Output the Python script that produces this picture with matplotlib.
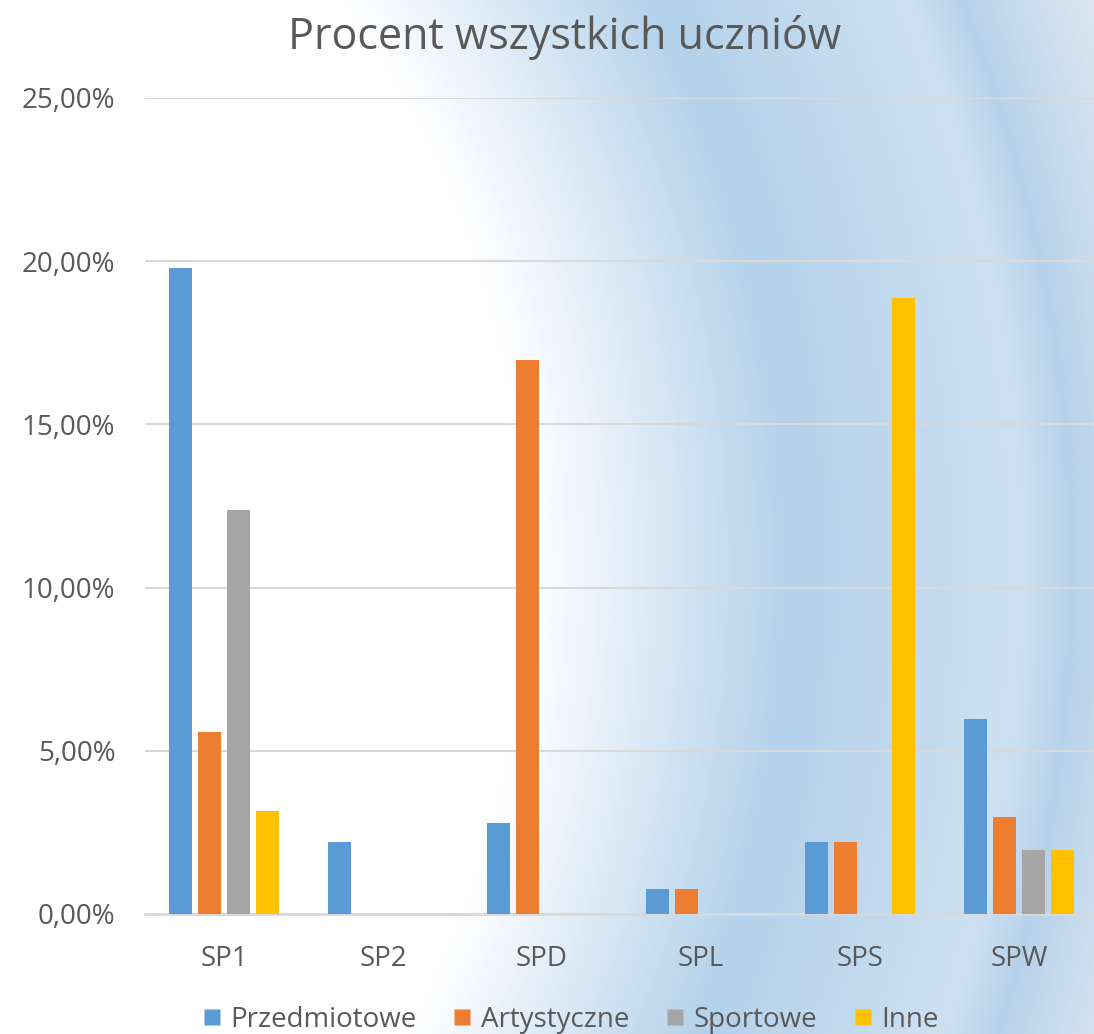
import numpy as np
import matplotlib
matplotlib.use("Agg")
import matplotlib.pyplot as plt
from matplotlib.lines import Line2D

categories = ["SP1", "SP2", "SPD", "SPL", "SPS", "SPW"]
series_names = ["Przedmiotowe", "Artystyczne", "Sportowe", "Inne"]
przedmiotowe = [0.1979, 0.0221, 0.0279, 0.0076, 0.0220, 0.0597]
artystyczne = [0.0558, 0.0, 0.1697, 0.0076, 0.0220, 0.0297]
sportowe = [0.1238, 0.0, 0.0, 0.0, 0.0, 0.0197]
inne = [0.0316, 0.0, 0.0, 0.0, 0.1887, 0.0197]
yticks = [0.0, 0.05, 0.10, 0.15, 0.20, 0.25]
ytick_labels = ["0,00%", "5,00%", "10,00%", "15,00%", "20,00%", "25,00%"]
title = "Procent wszystkich uczniów"

colors = ["#5B9BD5", "#ED7D31", "#A5A5A5", "#FFC000"]
text_color = "#595959"
font = ["Open Sans", "DejaVu Sans"]

W, H = 1094, 1034
fig = plt.figure(figsize=(W / 100, H / 100), dpi=100)

# decorative background: radial gradient with soft bands
yy, xx = np.mgrid[0:H, 0:W].astype(float)
r = np.sqrt((xx + 439) ** 2 + (yy - 566) ** 2)
prof_r = [960, 1000, 1230, 1320, 1400, 1460, 1510, 1560, 1640]
prof_c = [(255, 255, 255), (246, 249, 253), (180, 210, 235), (190, 215, 237), (198, 221, 240),
          (206, 225, 242), (182, 210, 235), (200, 220, 238), (222, 231, 241)]
img = np.ones((H, W, 3))
for c in range(3):
    vals = np.array([p[c] for p in prof_c]) / 255
    img[..., c] = np.interp(r, prof_r, vals, left=1.0, right=vals[-1])
bg = fig.add_axes([0, 0, 1, 1], zorder=0)
bg.imshow(img, aspect="auto", extent=[0, W, H, 0], interpolation="bilinear")
bg.axis("off")

ax = fig.add_axes([144.5 / W, 1 - 914 / H, 954 / W, 816 / H], zorder=1)
ax.set_facecolor("none")

x = np.arange(len(categories))
step = 0.1817
width = 0.143
for i, (name, vals) in enumerate(zip(series_names, [przedmiotowe, artystyczne, sportowe, inne])):
    ax.bar(x + (i - 1.5) * step, vals, width=width, color=colors[i], label=name, zorder=3)

ax.set_xlim(-0.5, len(categories) - 0.5)
ax.set_ylim(0, 0.25)
ax.set_yticks(yticks)
ax.set_yticklabels(ytick_labels, fontfamily=font, fontsize=20, color=text_color)
ax.set_xticks(x)
ax.set_xticklabels(categories, fontfamily=font, fontsize=20, color=text_color)
ax.tick_params(axis="y", length=0, pad=21)
ax.tick_params(axis="x", length=0, pad=22)
ax.grid(axis="y", color="#D9D9D9", linewidth=1.5, zorder=1)
for s in ["left", "right", "top"]:
    ax.spines[s].set_visible(False)
ax.spines["bottom"].set_color("#D9D9D9")
ax.spines["bottom"].set_linewidth(2)

fig.text(565 / W, 1 - 38 / H, title, ha="center", va="center",
         fontfamily=font, fontsize=31, color=text_color)

handles = [Line2D([0], [0], marker="s", linestyle="none", markersize=11.5,
                  markerfacecolor=colors[i], markeredgecolor="none") for i in range(4)]
leg = fig.legend(handles, series_names, loc="center", bbox_to_anchor=(571 / W, 1 - 1020 / H),
                 ncol=4, frameon=False, prop={"family": font, "size": 20},
                 handlelength=0.6, handletextpad=0.37, columnspacing=1.34,
                 labelcolor=text_color, borderpad=0, borderaxespad=0)

fig.savefig("out.png", dpi=100)
